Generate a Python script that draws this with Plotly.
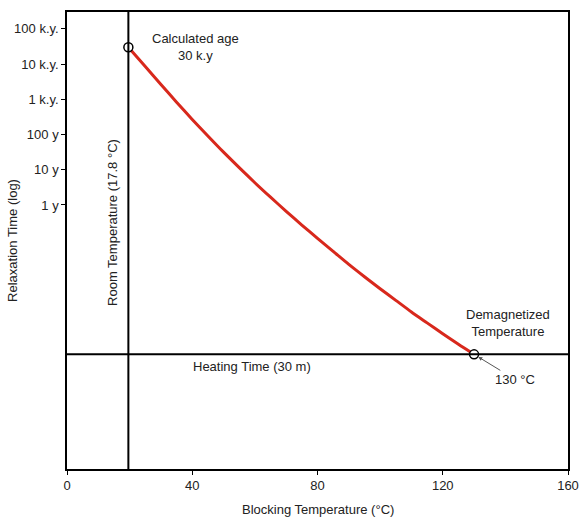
import plotly.graph_objects as go

# Data
temp_c = [19.6, 25, 30, 35, 40, 45, 50, 55, 60, 65, 70, 75, 80, 85, 90, 95, 100,
          105, 110, 115, 120, 125, 130]
relax_years = [30000, 8511, 2630, 832, 269, 91.2, 31.6, 11.5, 4.27, 1.66, 0.661, 0.269,
               0.112, 0.0479, 0.0204, 0.00912, 0.00417, 0.00195, 0.000912, 0.000447,
               0.000219, 0.00011, 5.7e-5]

room_temp = 19.6             # position of the room temperature line
heating_time_years = 5.7e-5  # 30 minutes in years
end_points_x = [temp_c[0], temp_c[-1]]
end_points_y = [relax_years[0], relax_years[-1]]

y_tick_vals = [1, 10, 100, 1000, 10000, 100000]
y_tick_text = ["1 y", "10 y", "100 y", "1 k.y.", "10 k.y.", "100 k.y."]
x_tick_vals = [0, 40, 80, 120, 160]

FONT = "Liberation Sans, Arial, Helvetica, sans-serif"
TXT = "#222222"
FS = 13

fig = go.Figure()

fig.add_trace(go.Scatter(
    x=temp_c, y=relax_years, mode="lines",
    line=dict(color="#d8281c", width=3, shape="spline", smoothing=0.6),
    hoverinfo="skip", showlegend=False))

# reference lines
fig.add_shape(type="line", xref="x", yref="paper", x0=room_temp, x1=room_temp, y0=0, y1=1,
              line=dict(color="black", width=2))
fig.add_shape(type="line", xref="paper", yref="y", x0=0, x1=1,
              y0=heating_time_years, y1=heating_time_years,
              line=dict(color="black", width=2))

fig.add_trace(go.Scatter(
    x=end_points_x, y=end_points_y, mode="markers",
    marker=dict(size=9, color="white", line=dict(color="black", width=1.5)),
    hoverinfo="skip", showlegend=False))

ann_font = dict(family=FONT, size=FS, color=TXT)
fig.add_annotation(x=41, y=4.49, text="Calculated age<br>30 k.y", showarrow=False,
                   font=ann_font, align="center")
fig.add_annotation(x=140.7, y=-3.35, text="Demagnetized<br>Temperature", showarrow=False,
                   font=ann_font, align="center")
fig.add_annotation(x=130, y=-4.244, text="130 °C", showarrow=True, ax=41, ay=25,
                   arrowhead=2, arrowsize=0.8, arrowwidth=1, arrowcolor="#555555",
                   standoff=5, font=ann_font)
fig.add_annotation(x=59, y=-4.59, text="Heating Time (30 m)", showarrow=False, font=ann_font)
fig.add_annotation(x=14.7, y=-0.51, text="Room Temperature (17.8 °C)", showarrow=False,
                   textangle=-90, font=ann_font)

# axis titles
fig.add_annotation(xref="paper", yref="paper", x=0.5, y=-0.0897, yanchor="middle",
                   text="Blocking Temperature (°C)", showarrow=False, font=ann_font)
fig.add_annotation(xref="paper", yref="paper", x=-0.109, xanchor="center", y=0.5,
                   text="Relaxation Time (log)", showarrow=False, textangle=-90, font=ann_font)

fig.update_xaxes(range=[0, 160], tickvals=x_tick_vals, showline=True, linecolor="black",
                 linewidth=1.5, mirror=True, ticks="outside", ticklen=4, tickwidth=1,
                 tickcolor="black", showgrid=False, zeroline=False, automargin=False,
                 tickfont=dict(family=FONT, size=FS, color=TXT))
fig.update_yaxes(type="log", range=[-7.5, 5.48], tickvals=y_tick_vals, ticktext=y_tick_text,
                 showline=True, linecolor="black", linewidth=1.5, mirror=True,
                 ticks="outside", ticklen=4, tickwidth=1, tickcolor="black",
                 showgrid=False, zeroline=False, automargin=False,
                 tickfont=dict(family=FONT, size=FS, color=TXT))

fig.update_layout(width=580, height=518, margin=dict(l=67, r=12, t=12, b=49),
                  plot_bgcolor="white", paper_bgcolor="white")

fig.write_html("out.html")
